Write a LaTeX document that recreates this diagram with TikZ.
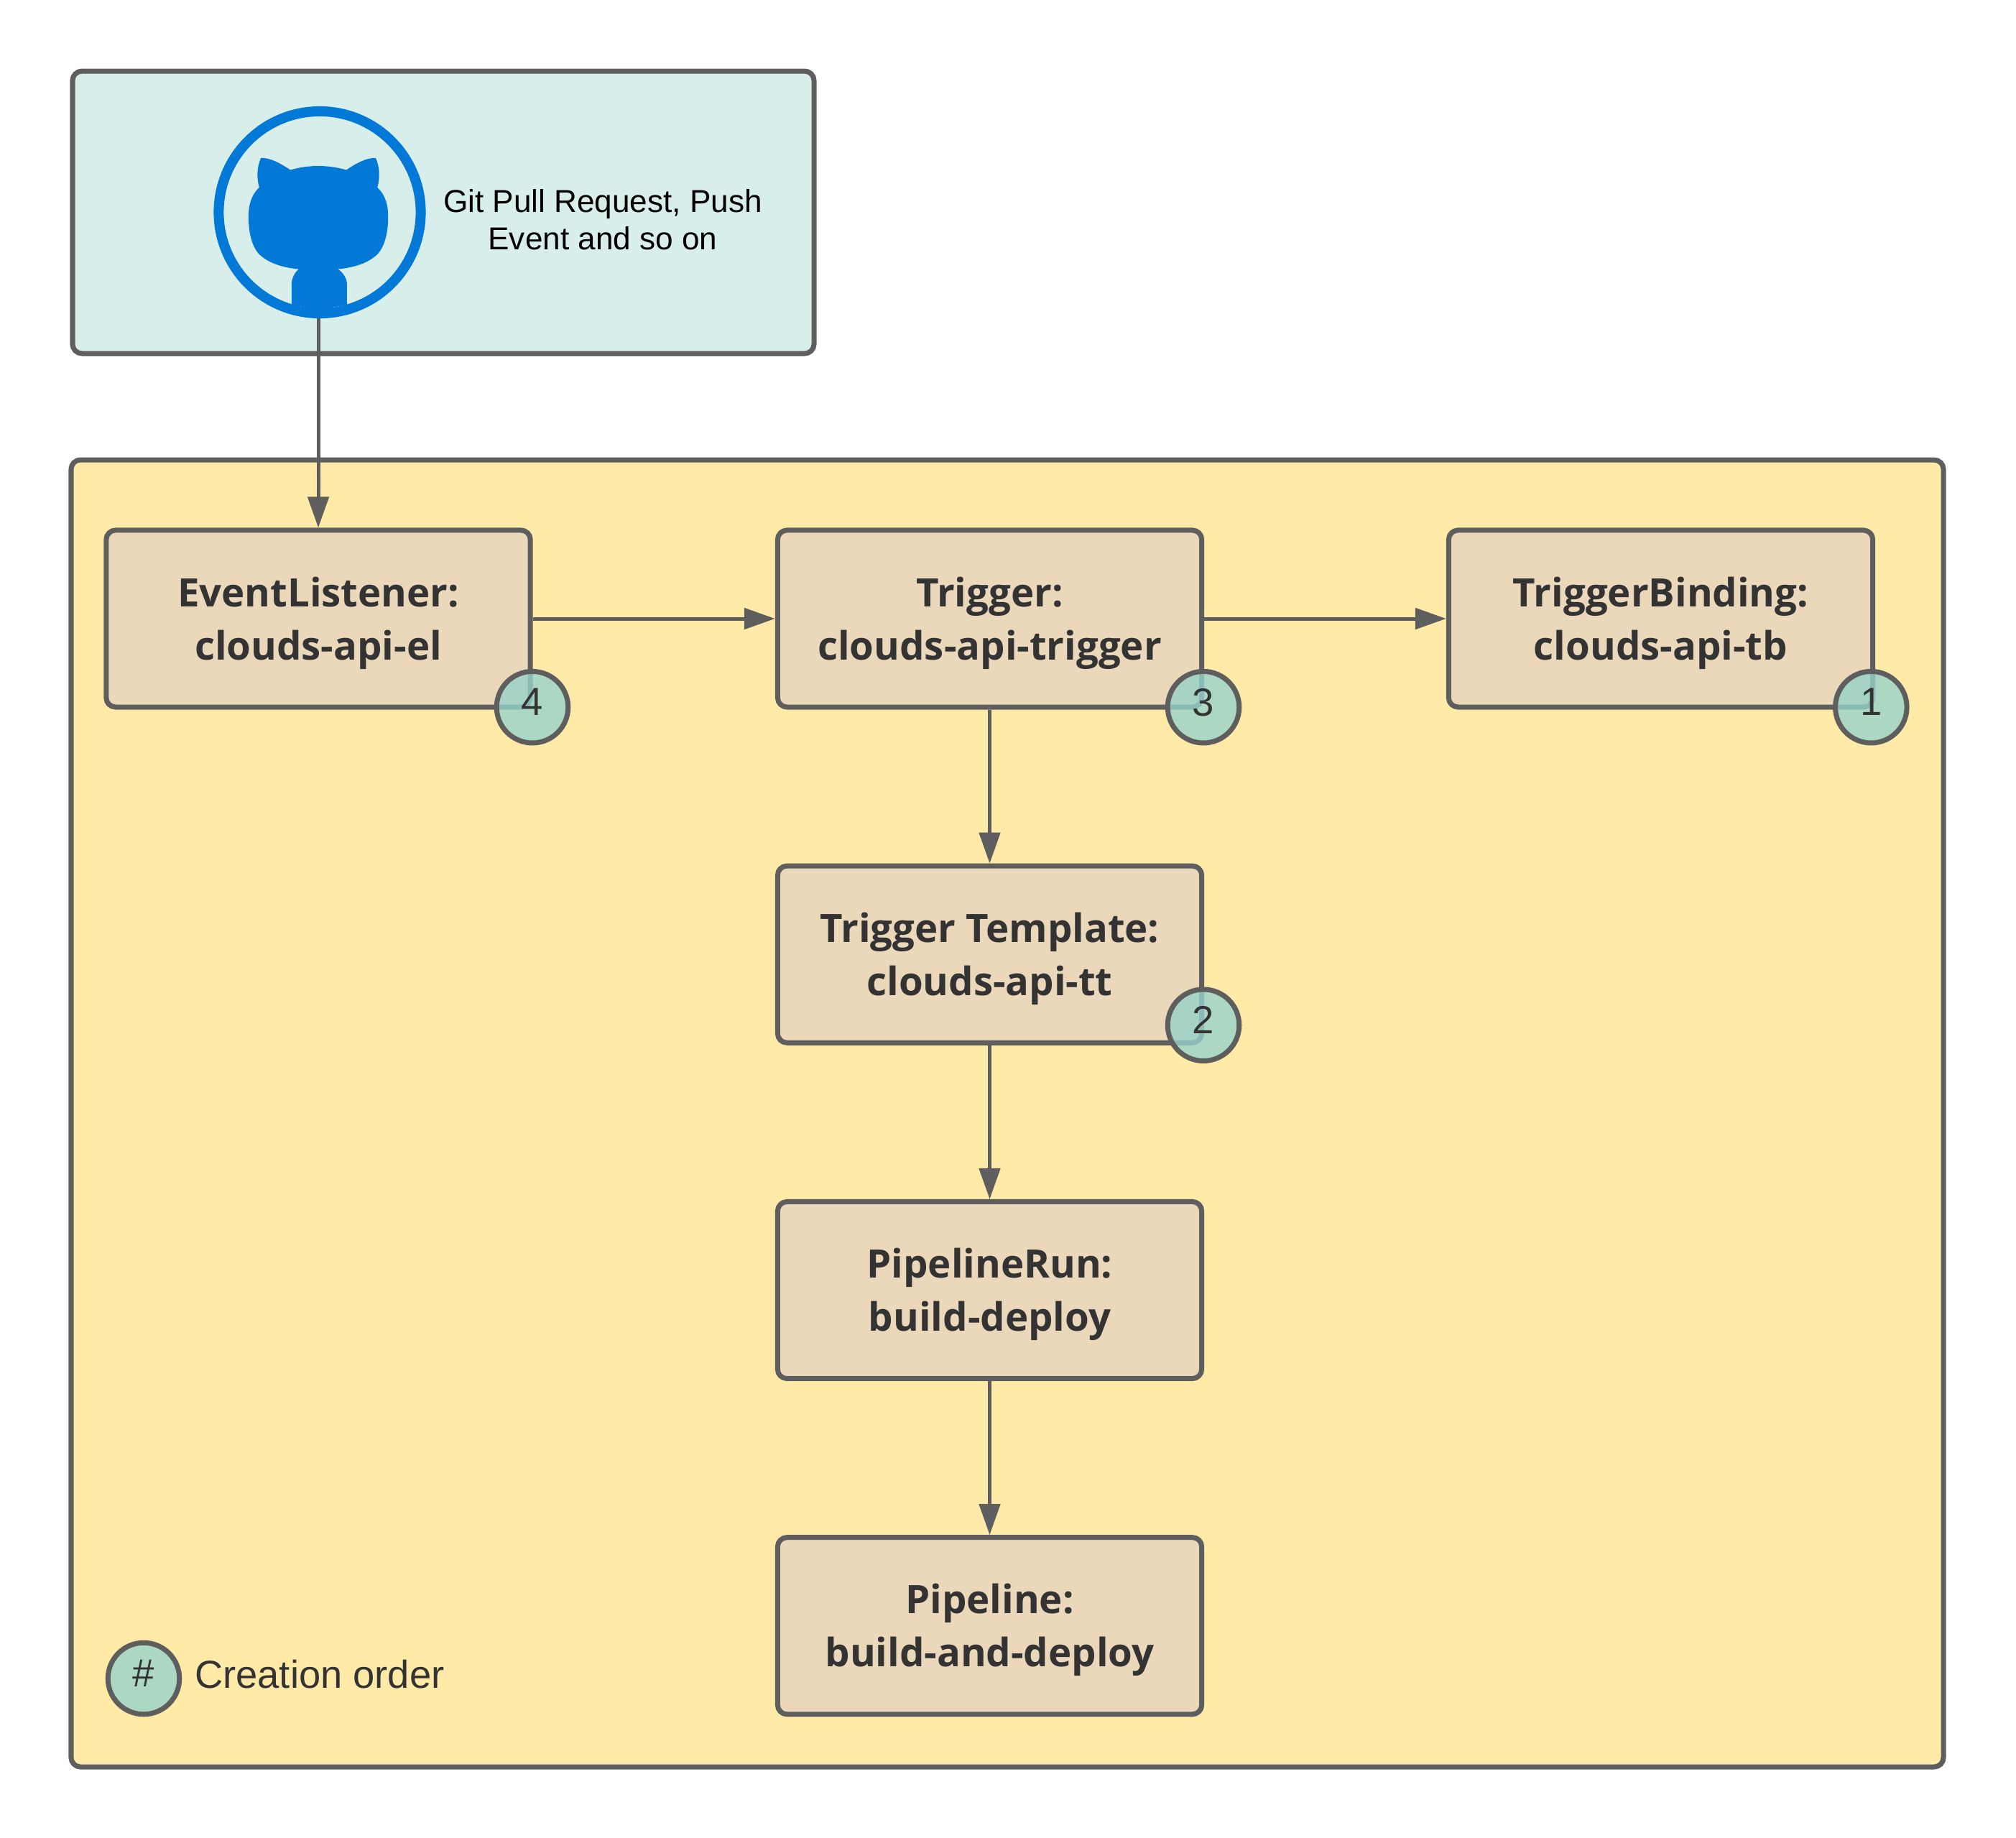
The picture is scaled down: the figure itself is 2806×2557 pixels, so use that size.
\documentclass[tikz,border=0pt]{standalone}
\usepackage{fontspec}
\setmainfont{Liberation Sans}
\newfontfamily\boxfont{Open Sans}
\usetikzlibrary{arrows.meta}
\definecolor{edgegray}{HTML}{5E5E5E}
\definecolor{textgray}{HTML}{333333}
\definecolor{sourceteal}{HTML}{D8EEEA}
\definecolor{groupyellow}{HTML}{FFEAA7}
\definecolor{objecttan}{HTML}{EBD7B9}
\definecolor{badgeteal}{HTML}{96D3CA}
\definecolor{gitblue}{HTML}{0278D7}
\tikzset{
  groupbox/.style={draw=edgegray, line width=0.07cm, rounded corners=0.13cm},
  objectbox/.style={groupbox, fill=objecttan, minimum width=5.90cm, minimum height=2.46cm,
    inner sep=0, align=center, text=textgray, text height=36.2pt,
    font=\boxfont\bfseries\fontsize{15.5}{21}\selectfont},
  orderbadge/.style={circle, draw=edgegray, line width=0.07cm, fill=badgeteal, fill opacity=0.8,
    text opacity=1, minimum size=0.995cm, inner sep=0, text=textgray, text depth=0.14cm,
    font=\fontsize{15.5}{18}\selectfont},
  flow/.style={draw=edgegray, line width=0.05cm, -{Triangle[length=0.43cm,width=0.29cm]}},
}
\begin{document}
\begin{tikzpicture}[x=0.01cm, y=-0.01cm]
    \useasboundingbox (0,0) rectangle (2806,2557);
    % containers
    \fill[white] (0,0) rectangle (2806,2557);
    \draw[groupbox, fill=sourceteal] (101,99) rectangle (1133,492);
    \draw[groupbox, fill=groupyellow] (99,640) rectangle (2705,2459);
    % github mark
    \node[circle, draw=gitblue, line width=0.14cm, minimum size=2.81cm, inner sep=0] (octo) at (445,295.5) {};
    \begin{scope}[shift={(270,130)}, x=0.00333cm, y=-0.00333cm]
        \fill[gitblue] (280,270) .. controls (320,268) and (365,295) .. (403,320)
            .. controls (480,298) and (560,298) .. (637,320)
            .. controls (675,295) and (720,268) .. (760,270)
            .. controls (778,310) and (778,355) .. (767,393)
            .. controls (800,425) and (812,465) .. (812,515)
            .. controls (812,590) and (795,640) .. (770,670)
            .. controls (730,710) and (670,728) .. (602,735)
            .. controls (625,750) and (640,775) .. (640,800)
            -- (640,884) -- (525,905) -- (408,884) -- (408,800)
            .. controls (408,775) and (420,750) .. (438,735)
            .. controls (370,728) and (310,710) .. (270,670)
            .. controls (245,640) and (228,590) .. (228,515)
            .. controls (228,465) and (240,425) .. (273,393)
            .. controls (262,355) and (262,310) .. (280,270) -- cycle;
    \end{scope}
    \node[align=center, inner sep=0, font=\fontsize{12.55}{14.8}\selectfont] (source) at (839,306) {Git Pull Request, Push\\Event and so on};
    % objects
    \node[objectbox] (el) at (443,861) {EventListener:\\clouds-api-el};
    \node[objectbox] (trigger) at (1377.5,861) {Trigger:\\clouds-api-trigger};
    \node[objectbox] (tb) at (2311.5,861) {TriggerBinding:\\clouds-api-tb};
    \node[objectbox] (tt) at (1377.5,1328.2) {Trigger Template:\\clouds-api-tt};
    \node[objectbox] (run) at (1377.5,1795.5) {PipelineRun:\\build-deploy};
    \node[objectbox] (pipe) at (1377.5,2262.7) {Pipeline:\\build-and-deploy};
    % connectors
    \draw[flow] (el |- octo.south) -- (el);
    \draw[flow] (el) -- (trigger);
    \draw[flow] (trigger) -- (tb);
    \draw[flow] (trigger) -- (tt);
    \draw[flow] (tt) -- (run);
    \draw[flow] (run) -- (pipe);
    % badges
    \node[orderbadge] (order4) at (741,984.2) {4};
    \node[orderbadge] (order3) at (1675,984.2) {3};
    \node[orderbadge] (order1) at (2604.3,984.2) {1};
    \node[orderbadge] (order2) at (1675,1426.7) {2};
    \node[orderbadge] (orderkey) at (200,2336) {\#};
    \node[anchor=base west, inner sep=0, text=textgray, font=\fontsize{15.45}{18}\selectfont] (keytext) at (270.5,2349) {Creation order};
\end{tikzpicture}
\end{document}
